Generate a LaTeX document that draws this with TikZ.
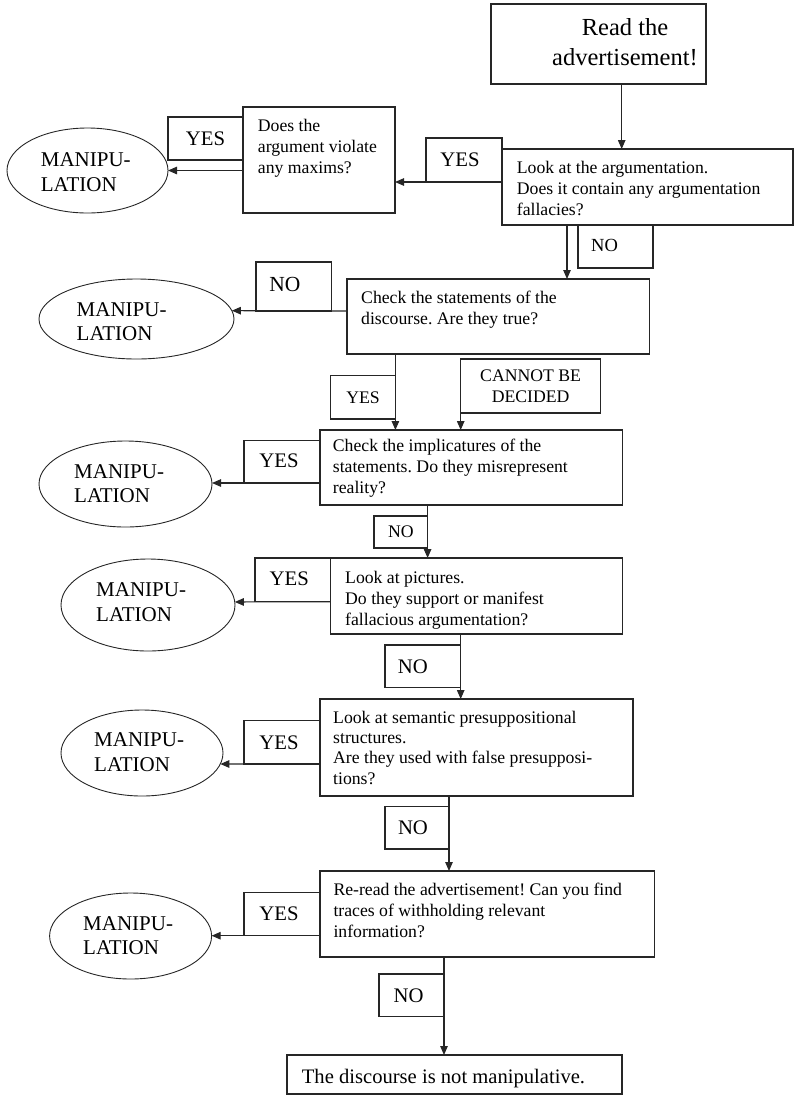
\documentclass[tikz,border=0pt]{standalone}
\usepackage{fontspec}
\setmainfont{Liberation Serif}
\usetikzlibrary{arrows.meta,shapes.geometric,fit}
\frenchspacing
\begin{document}
\begin{tikzpicture}[x=1pt,y=-1pt,
  box/.style={draw=black!85, line width=1.1pt, inner sep=0pt, outer sep=0pt},
  lbl/.style={draw=black!85, line width=1.1pt, inner sep=0pt, outer sep=0pt, anchor=north west, align=center},
  oval/.style={draw=black!85, ellipse, line width=0.9pt, inner sep=0pt, outer sep=0pt},
  txt/.style={anchor=north west, inner sep=0pt, align=left, font=\fontsize{17.7}{21}\selectfont},
  mtxt/.style={anchor=north west, inner sep=0pt, align=left, font=\fontsize{21}{24.5}\selectfont},
  arr/.style={draw=black!85, line width=1.1pt, -{Triangle[length=9pt,width=7.5pt]}},
  fs/.style={font=\fontsize{17.7}{20.5}\selectfont},
  fm/.style={font=\fontsize{18.5}{22}\selectfont},
  fl/.style={font=\fontsize{20.7}{24}\selectfont},
]
\useasboundingbox (0,0) rectangle (798,1096);

% ---------- main boxes ----------
\node[box, fit={(491,4) (706,84)}] (b1) {};
\node[box, fit={(502,149) (793,225)}] (b2) {};
\node[box, fit={(243,107) (395,213)}] (b3) {};
\node[box, fit={(347,279) (649.5,354)}] (b4) {};
\node[box, fit={(320,430) (622.4,505)}] (b5) {};
\node[box, fit={(330.6,558) (622.4,634)}] (b6) {};
\node[box, fit={(320,699) (633,796)}] (b7) {};
\node[box, fit={(320,871) (654.6,957)}] (b8) {};
\node[box, fit={(287,1055) (622,1094)}] (b9) {};

% ---------- box texts ----------
\node[anchor=north, inner sep=0pt, align=center, font=\fontsize{24.5}{30}\selectfont] (t1) at (625,14) {\strut Read the\\advertisement!};
\node[txt] (t2) at (516.7,158.3) {\strut Look at the argumentation.\\Does it contain any argumentation\\fallacies?};
\node[txt] (t3) at (257.7,116.3) {\strut Does the\\argument violate\\any maxims?};
\node[txt] (t4) at (361,288.3) {\strut Check the statements of the\\discourse. Are they true?};
\node[txt] (t5) at (332.7,436.3) {\strut Check the implicatures of the\\statements. Do they misrepresent\\reality?};
\node[txt] (t6) at (345,568.3) {\strut Look at pictures.\\Do they support or manifest\\fallacious argumentation?};
\node[anchor=north west, inner sep=0pt, align=left, font=\fontsize{17.7}{20.3}\selectfont] (t7) at (333,708.8) {\strut Look at semantic presuppositional\\structures.\\Are they used with false presupposi-\\tions?};
\node[txt] (t8) at (333.3,880.3) {\strut Re-read the advertisement! Can you find\\traces of withholding relevant\\information?};
\node[anchor=north west, inner sep=0pt, font=\fontsize{20.6}{24}\selectfont] (t9) at (301.7,1066.2) {\strut The discourse is not manipulative.};

% ---------- ellipses ----------
\node[oval, minimum width=161, minimum height=85] (e1) at (87.5,170.5) {};
\node[oval, minimum width=195, minimum height=80] (e2) at (136.5,319) {};
\node[oval, minimum width=173, minimum height=86] (e3) at (125.5,484) {};
\node[oval, minimum width=174, minimum height=92] (e4) at (148,605) {};
\node[oval, minimum width=162, minimum height=86] (e5) at (142,753) {};
\node[oval, minimum width=162, minimum height=86] (e6) at (130.6,936) {};

\node[mtxt] (m1) at (40.7,149.5) {\strut MANIPU-\\LATION};
\node[mtxt] (m2) at (76.5,298.8) {\strut MANIPU-\\LATION};
\node[mtxt] (m3) at (74,461) {\strut MANIPU-\\LATION};
\node[mtxt] (m4) at (96,579.5) {\strut MANIPU-\\LATION};
\node[mtxt] (m5) at (94,729.5) {\strut MANIPU-\\LATION};
\node[mtxt] (m6) at (83,912.8) {\strut MANIPU-\\LATION};

% ---------- label boxes ----------
\node[lbl, fl, minimum width=75, minimum height=43] (l1) at (168,117) {YES};
\node[lbl, fl, minimum width=76, minimum height=44] (l2) at (426,138) {YES\hspace{8pt}};
\node[lbl, fm, minimum width=75, minimum height=43] (l3) at (578,225) {\raisebox{2pt}{NO}\hspace{22pt}};
\node[lbl, font=\fontsize{21.5}{24}\selectfont, minimum width=75.6, minimum height=49] (l4) at (256,262) {\raisebox{4pt}{NO}\hspace{18pt}};
\node[lbl, fs, minimum width=64.8, minimum height=43.3] (l5) at (330.6,375.7) {YES};
\node[lbl, fs, minimum width=139.8, minimum height=54] (l6) at (460.7,359) {CANNOT BE\\DECIDED\hspace{30pt}};
\node[lbl, fl, minimum width=76, minimum height=42.3] (l7) at (244,440.7) {\raisebox{3pt}{YES}\hspace{6pt}};
\node[lbl, fs, minimum width=53.6, minimum height=32] (l8) at (374,516) {\raisebox{-3pt}{NO}};
\node[lbl, fl, minimum width=75.6, minimum height=43.7] (l9) at (255,558) {\raisebox{3pt}{YES}\hspace{7pt}};
\node[lbl, fl, minimum width=75.7, minimum height=42.7] (l10) at (385,645) {NO\hspace{20pt}};
\node[lbl, fl, minimum width=76, minimum height=43.3] (l11) at (244,720.7) {YES\hspace{6pt}};
\node[lbl, fl, minimum width=64, minimum height=42.3] (l12) at (385,806.7) {NO\hspace{8pt}};
\node[lbl, fl, minimum width=76, minimum height=43] (l13) at (244,892.7) {YES\hspace{6pt}};
\node[lbl, fl, minimum width=65, minimum height=42.7] (l14) at (379,974) {NO\hspace{6pt}};

% ---------- connector positions ----------
\coordinate (x1) at (621.7,0);
\coordinate (y2) at (0,182);
\coordinate (x4) at (567,0);
\coordinate (y5) at (0,311);
\coordinate (x6) at (395.4,0);
\coordinate (y10) at (0,483);
\coordinate (x8) at (427.6,0);
\coordinate (y9) at (0,601.7);
\coordinate (x11) at (460.7,0);
\coordinate (y12) at (0,764);
\coordinate (x13) at (449,0);
\coordinate (y14) at (0,935.7);
\coordinate (x15) at (444,0);

% ---------- connectors ----------
\draw[arr] (b1.south -| x1) -- (b2.north -| x1);
\draw[arr] (b2.west |- y2) -- (b3.east |- y2);
\draw[arr] (b3.west |- e1.east) -- (e1.east);
\draw[arr] (b2.south -| x4) -- (b4.north -| x4);
\draw[arr] (b4.west |- y5) -- (e2.5);
\draw[arr] (b4.south -| x6) -- (b5.north -| x6);
\draw[arr] (l6.south west) -- (b5.north -| l6.south west);
\draw[arr] (b5.west |- y10) -- (e3.east |- y10);
\draw[arr] (b5.south -| x8) -- (b6.north -| x8);
\draw[arr] (b6.west |- y9) -- (e4.2);
\draw[arr] (b6.south -| x11) -- (b7.north -| x11);
\draw[arr] (b7.west |- y12) -- (e5.-8);
\draw[arr] (b7.south -| x13) -- (b8.north -| x13);
\draw[arr] (b8.west |- y14) -- (e6.east |- y14);
\draw[arr] (b8.south -| x15) -- (b9.north -| x15);
\end{tikzpicture}
\end{document}
